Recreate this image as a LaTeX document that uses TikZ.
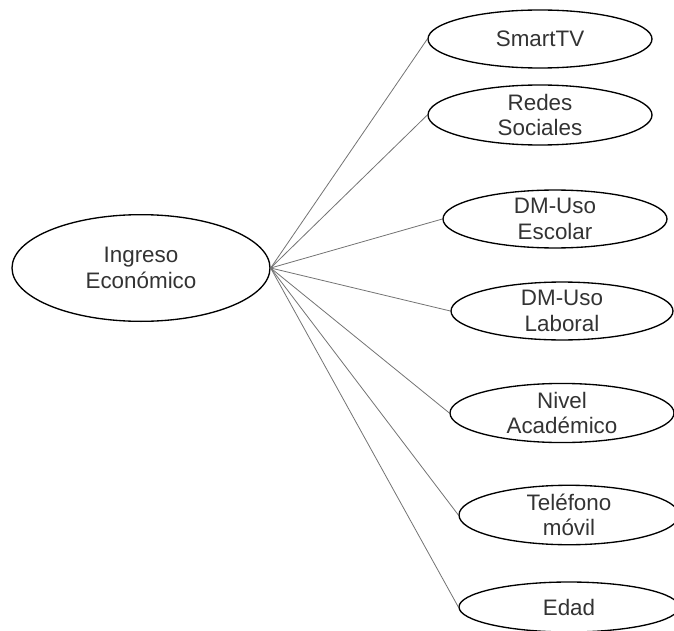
\documentclass[tikz,border=0pt]{standalone}
\usepackage{fontspec}
\setmainfont{Liberation Sans}
\usetikzlibrary{shapes.geometric}

\begin{document}
\begin{tikzpicture}[x=0.75pt,y=-0.75pt,
  var/.style={ellipse,draw,line width=1pt,inner sep=0pt,align=center,font=\fontsize{16.8}{19}\selectfont,text=black!80},
  lnk/.style={black!55,line width=0.6pt}]
\useasboundingbox (0,0) rectangle (674,631);
\node [var,minimum width=193.5pt,minimum height=80pt] (ingreso) at (141,268) {Ingreso\\Económico};
\node [var,minimum width=168pt,minimum height=43.5pt] (smarttv) at (540,39) {SmartTV};
\node [var,minimum width=168pt,minimum height=45pt] (redes) at (540,115) {Redes\\Sociales};
\node [var,minimum width=168pt,minimum height=39pt] (escolar) at (555,219) {DM-Uso\\Escolar};
\node [var,minimum width=166.5pt,minimum height=39pt] (laboral) at (562,311) {DM-Uso\\Laboral};
\node [var,minimum width=168pt,minimum height=37.5pt] (nivel) at (562,413) {Nivel\\Académico};
\node [var,minimum width=165pt,minimum height=39pt] (telefono) at (569,515) {Teléfono\\móvil};
\node [var,minimum width=165pt,minimum height=37.5pt] (edad) at (569,607) {Edad};
\foreach \v in {smarttv,redes,escolar,laboral,nivel,telefono,edad}
  \draw [lnk] (ingreso.east) -- (\v.west);

\end{tikzpicture}
\end{document}
